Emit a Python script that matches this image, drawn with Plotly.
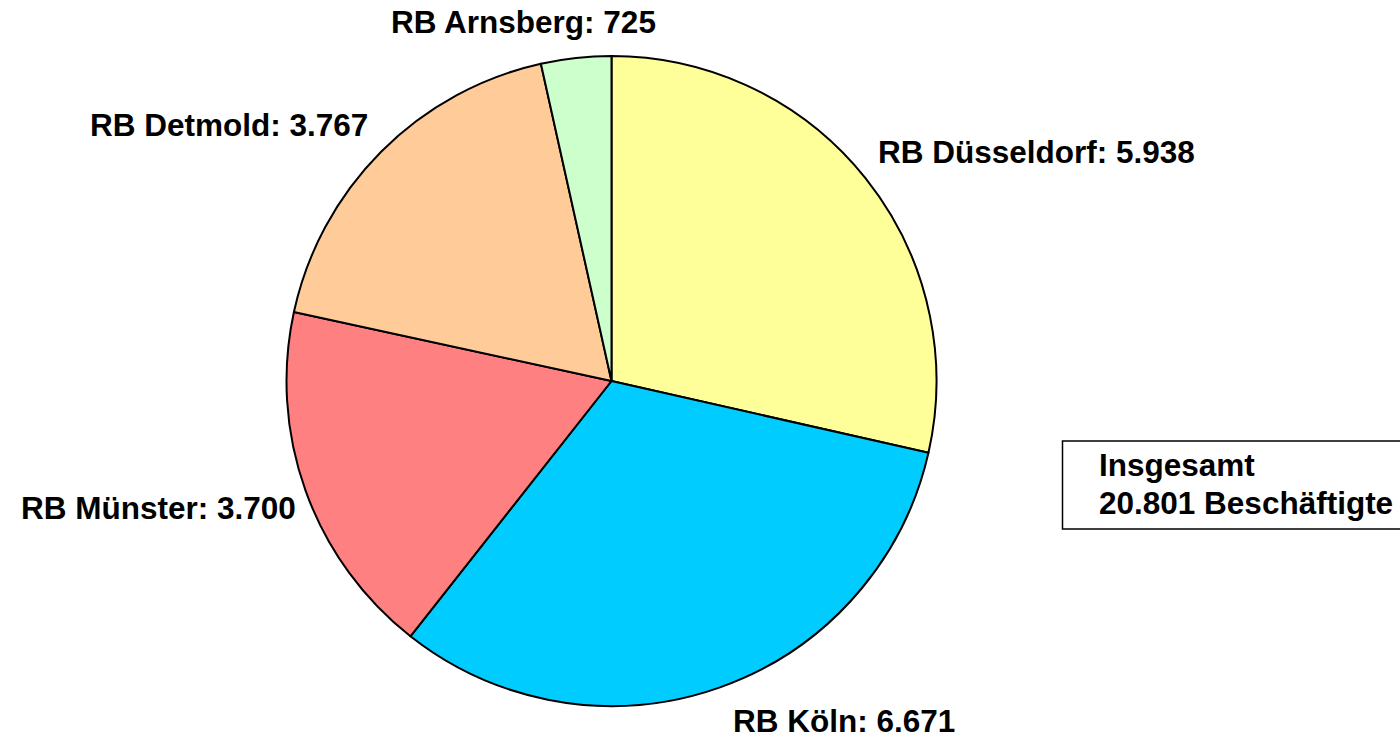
import plotly.graph_objects as go

regions = ["RB Düsseldorf", "RB Köln", "RB Münster", "RB Detmold", "RB Arnsberg"]
values = [5938, 6671, 3700, 3767, 725]
colors = ["#FFFF99", "#00CCFF", "#FF8080", "#FFCC99", "#CCFFCC"]
total_title = "Insgesamt"
total_unit = "Beschäftigte"

W, H = 1400, 740

def fmt(v):
    return f"{v:,}".replace(",", ".")

fig = go.Figure(go.Pie(
    labels=regions, values=values, sort=False, direction="clockwise", rotation=0,
    marker=dict(colors=colors, line=dict(color="black", width=2)),
    textinfo="none", hoverinfo="label+value", showlegend=False,
    domain=dict(x=[286 / W, 937 / W], y=[1 - 706 / H, 1 - 56 / H]),
))

# label positions in pixels (center x, center y)
label_pos = {
    "RB Düsseldorf": (1036, 152),
    "RB Köln": (844, 721),
    "RB Münster": (158, 508),
    "RB Detmold": (229, 125),
    "RB Arnsberg": (523, 22),
}
FONT_FAMILY = "Liberation Sans, Arial, sans-serif"
font = dict(family=FONT_FAMILY, size=31.5, color="black")
anns = []
for r, v in zip(regions, values):
    px, py = label_pos[r]
    anns.append(dict(x=px / W, y=1 - py / H, xref="paper", yref="paper",
                     text=f"<b>{r}: {fmt(v)}</b>", showarrow=False,
                     xanchor="center", yanchor="middle", font=font))

box_lines = [(total_title, 465), (f"{fmt(sum(values))} {total_unit}", 503)]
for txt, py in box_lines:
    anns.append(dict(x=1097 / W, y=1 - py / H, xref="paper", yref="paper",
                     text=f"<b>{txt}</b>", showarrow=False,
                     xanchor="left", yanchor="middle", align="left", font=font))

fig.update_layout(
    width=W, height=H, margin=dict(l=0, r=0, t=0, b=0),
    paper_bgcolor="white", plot_bgcolor="white",
    annotations=anns,
    shapes=[dict(type="rect", xref="paper", yref="paper",
                 x0=1062.5 / W, x1=1.02, y0=1 - 529 / H, y1=1 - 441 / H,
                 line=dict(color="black", width=1.5), fillcolor="rgba(0,0,0,0)")],
)
fig.write_html("out.html", config={"displayModeBar": False},
               post_script="document.body.style.margin='0px';")
